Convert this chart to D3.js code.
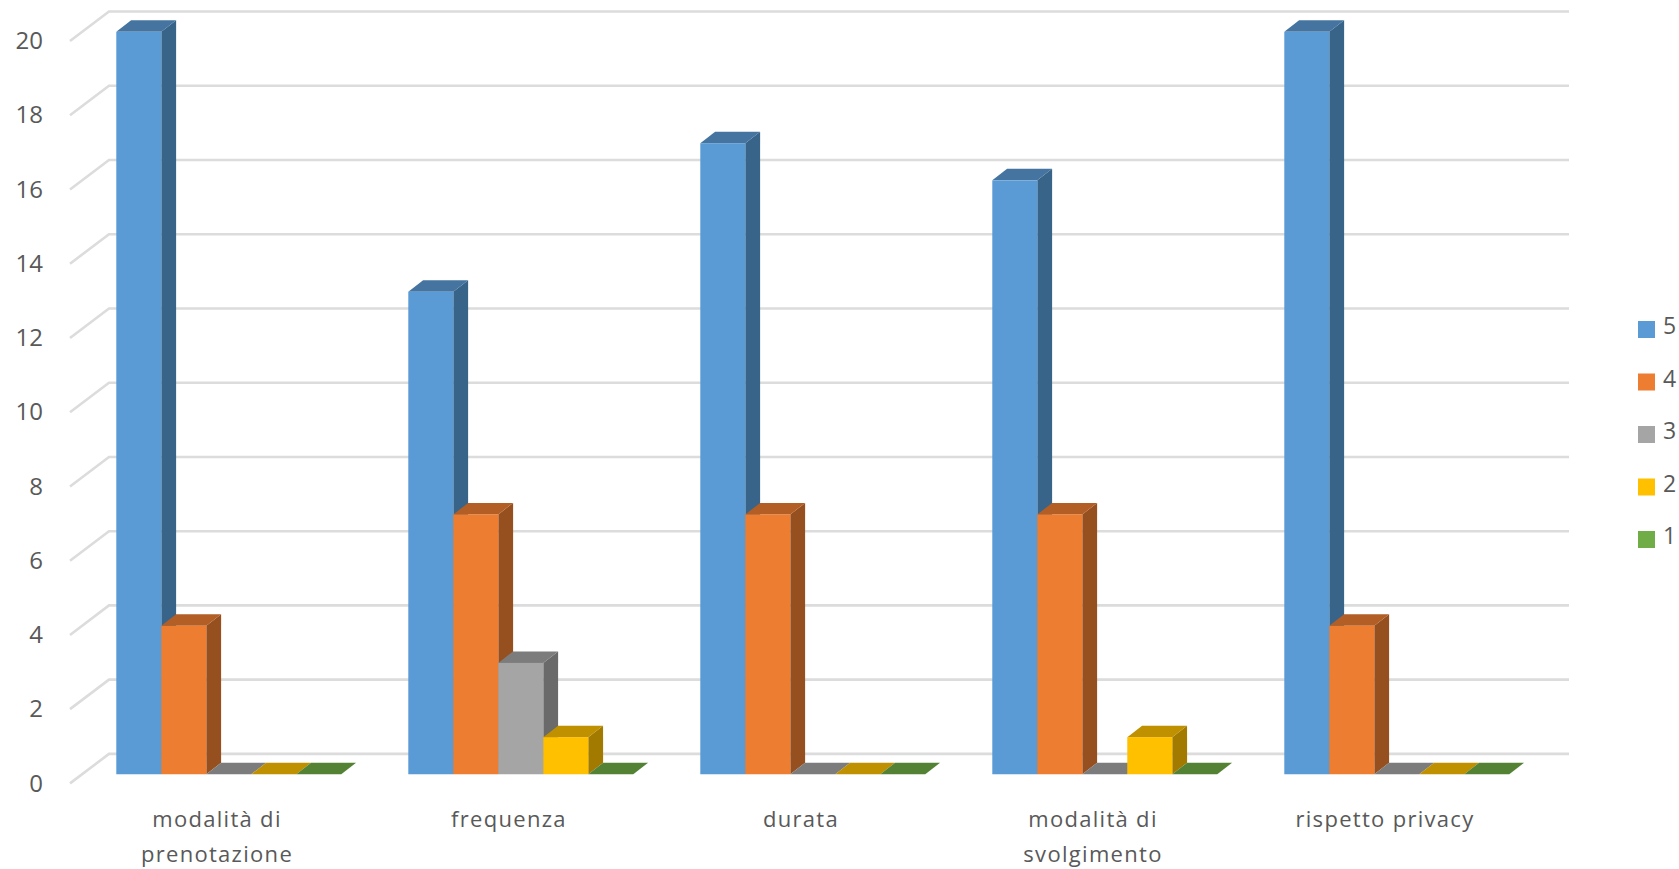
<!DOCTYPE html>
<html>
<head>
<meta charset="utf-8">
<script src="https://cdnjs.cloudflare.com/ajax/libs/d3/7.8.5/d3.min.js"></script>
<style>
  html, body { margin: 0; padding: 0; background: #fff; }
  svg { display: block; }
  text { font-family: "Open Sans", sans-serif; fill: #595959; }
</style>
</head>
<body>
<svg id="chart" width="1679" height="869"></svg>
<script>
// Ratings collected per aspect of the service
const categories = ["modalità di prenotazione", "frequenza", "durata", "modalità di svolgimento", "rispetto privacy"];
const categoryLines = [["modalità di", "prenotazione"], ["frequenza"], ["durata"], ["modalità di", "svolgimento"], ["rispetto privacy"]];
const seriesNames = ["5", "4", "3", "2", "1"];
const values5 = [20, 13, 17, 16, 20];
const values4 = [4, 7, 7, 7, 4];
const values3 = [0, 3, 0, 0, 0];
const values2 = [0, 1, 0, 1, 0];
const values1 = [0, 0, 0, 0, 0];
const yTicks = [0, 2, 4, 6, 8, 10, 12, 14, 16, 18, 20];

const seriesValues = [values5, values4, values3, values2, values1];
const frontColors = ["#5b9bd5", "#ed7d31", "#a5a5a5", "#ffc000", "#70ad47"];
const topColors = ["#44749f", "#b25e25", "#7c7c7c", "#bf9000", "#548235"];
const sideColors = ["#38648a", "#96501f", "#6a6a6a", "#a37a00", "#466e2c"];

const svg = d3.select("#chart");

// Oblique projection: the floor recedes by depthX / depthY from front to back wall
const depthX = 38, depthY = -29.5;
const left = 71, bandStep = 292, floorY = 783.4, topY = 41;
const nearZ = 0.31, farZ = 0.70;

const x = d3.scaleBand().domain(categories).range([left, left + bandStep * categories.length]);
const xSeries = d3.scaleBand().domain(seriesNames).range([0, x.bandwidth()])
  .paddingInner(0).paddingOuter(0.745);
const y = d3.scaleLinear().domain([0, 20]).range([floorY, topY]);

// Gridlines: one segment on the side wall, one along the back wall
const grid = svg.append("g").attr("fill", "none").attr("stroke", "#dcdcdc").attr("stroke-width", 2.6);
grid.selectAll("path").data(yTicks).join("path")
  .attr("d", d => {
    const p = d3.path();
    p.moveTo(left - 1, y(d));
    p.lineTo(left + depthX, y(d) + depthY);
    p.lineTo(x.range()[1] + depthX, y(d) + depthY);
    return p.toString();
  });

// Value axis labels
const yAxis = svg.append("g").attr("transform", `translate(${left},0)`)
  .call(d3.axisLeft(y).tickValues(yTicks).tickSize(0).tickPadding(28));
yAxis.select(".domain").remove();
yAxis.selectAll("text").style("font-size", "24px").style("font-family", "'Open Sans', sans-serif").attr("fill", "#595959");

// Category axis labels, wrapped on explicit line breaks
const xAxis = svg.append("g").attr("transform", `translate(0,${floorY})`)
  .call(d3.axisBottom(x).tickSize(0).tickFormat(""));
xAxis.select(".domain").remove();
xAxis.selectAll(".tick text")
  .attr("text-anchor", "middle")
  .attr("y", 0)
  .attr("dy", null)
  .style("font-size", "22px")
  .style("letter-spacing", "1.3px")
  .style("font-family", "'Open Sans', sans-serif")
  .attr("fill", "#595959")
  .each(function (d, i) {
    d3.select(this).selectAll("tspan").data(categoryLines[i]).join("tspan")
      .attr("x", 0)
      .attr("y", (_, j) => 43.6 + j * 35)
      .text(t => t);
  });

// 3-D columns: side and top first, then the front, series left to right
const nearDx = depthX * nearZ, nearDy = depthY * nearZ;
const barDx = depthX * (farZ - nearZ), barDy = depthY * (farZ - nearZ);

const polygon = pts => pts.map(p => p.join(",")).join(" ");

categories.forEach((cat, ci) => {
  const group = svg.append("g").attr("class", "group");
  seriesNames.forEach((name, si) => {
    const v = seriesValues[si][ci];
    const x0 = x(cat) + xSeries(name) + nearDx;
    const x1 = x0 + xSeries.bandwidth();
    const yBase = y(0) + nearDy;
    const yTop = y(v) + nearDy;
    if (v > 0) {
      group.append("polygon").attr("fill", sideColors[si])
        .attr("points", polygon([[x1, yTop], [x1 + barDx, yTop + barDy], [x1 + barDx, yBase + barDy], [x1, yBase]]));
    }
    group.append("polygon").attr("fill", topColors[si])
      .attr("points", polygon([[x0, yTop], [x0 + barDx, yTop + barDy], [x1 + barDx, yTop + barDy], [x1, yTop]]));
    if (v > 0) {
      group.append("rect").attr("fill", frontColors[si])
        .attr("x", x0).attr("y", yTop)
        .attr("width", xSeries.bandwidth()).attr("height", yBase - yTop);
    }
  });
});

// Legend
const legendY = d3.scalePoint().domain(seriesNames).range([321, 531]);
const legend = svg.append("g").selectAll("g").data(seriesNames).join("g")
  .attr("transform", d => `translate(1638,${legendY(d)})`);
legend.append("rect").attr("width", 17).attr("height", 17).attr("fill", (d, i) => frontColors[i]);
legend.append("text").attr("x", 25).attr("y", 13).style("font-size", "23px").text(d => d);
</script>
</body>
</html>
